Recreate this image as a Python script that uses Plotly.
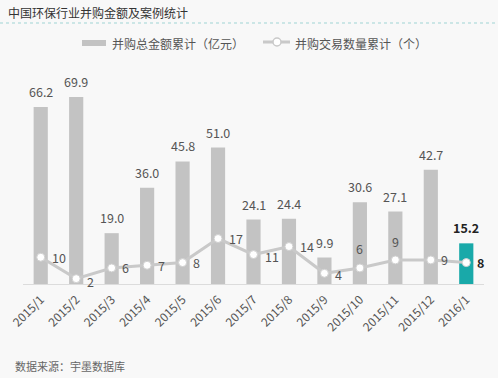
import plotly.graph_objects as go

months = ["2015/1", "2015/2", "2015/3", "2015/4", "2015/5", "2015/6", "2015/7",
          "2015/8", "2015/9", "2015/10", "2015/11", "2015/12", "2016/1"]
amount = [66.2, 69.9, 19.0, 36.0, 45.8, 51.0, 24.1, 24.4, 9.9, 30.6, 27.1, 42.7, 15.2]
deals = [10, 2, 6, 7, 8, 17, 11, 14, 4, 6, 9, 9, 8]

bar_name = "并购总金额累计（亿元）"
line_name = "并购交易数量累计（个）"
title = "中国环保行业并购金额及案例统计"
source = "数据来源：宇墨数据库"

# label offsets (pixels) for the count labels
deal_offsets = [(18, 0), (14, 3), (14, 0), (14, 0), (14, 0), (18, 0), (18, 2),
                (18, 0), (14, 1), (0, -19), (0, -18), (14, 0), (14, 0)]

FONT = "Noto Sans CJK SC, Noto Sans, sans-serif"
W, H = 498, 378
L, R, T, B = 23, 14, 70, 94
pw, ph = W - L - R, H - T - B

gray_bar = "#c3c3c3"
teal = "#19a9a9"
bar_colors = [gray_bar] * (len(months) - 1) + [teal]

fig = go.Figure()
fig.add_trace(go.Bar(x=months, y=amount, name=bar_name, marker_color=bar_colors,
                     marker_line_width=0, width=0.4, showlegend=False))
fig.add_trace(go.Scatter(x=months, y=deals, name=line_name, mode="lines+markers",
                         line=dict(color="#c9c9c9", width=3),
                         marker=dict(size=8, color="white", line=dict(color="#d0d0d0", width=1)),
                         showlegend=False))

last = len(months) - 1
for i, (m, v) in enumerate(zip(months, amount)):
    txt = f"{v:.1f}"
    if i == last:
        txt = f"<b>{txt}</b>"
    fig.add_annotation(x=m, y=v, text=txt, showarrow=False, yanchor="bottom", yshift=4,
                       font=dict(size=12.5, color="#222" if i == last else "#555", family=FONT))

for i, (m, v) in enumerate(zip(months, deals)):
    dx, dy = deal_offsets[i]
    txt = str(v)
    if i == last:
        txt = f"<b>{txt}</b>"
    fig.add_annotation(x=m, y=v, text=txt, showarrow=False, xshift=dx, yshift=-dy,
                       font=dict(size=12.5, color="#222" if i == last else "#555", family=FONT))


def px(x):
    return (x - L) / pw


def py(y):
    return (H - B - y) / ph


# Title and dotted rule
fig.add_annotation(x=px(6), y=py(12), xref="paper", yref="paper", text=title, showarrow=False,
                   xanchor="left", yanchor="middle", font=dict(size=12, color="#333", family=FONT))
fig.add_shape(type="line", xref="paper", yref="paper", x0=px(0), x1=px(498), y0=py(23), y1=py(23),
              line=dict(color="#9fd4d4", width=1, dash="dot"))

# Legend
fig.add_shape(type="rect", xref="paper", yref="paper", x0=px(82), x1=px(106), y0=py(46), y1=py(40),
              fillcolor=gray_bar, line_width=0)
fig.add_annotation(x=px(110), y=py(43), xref="paper", yref="paper", text=bar_name, showarrow=False,
                   xanchor="left", yanchor="middle", font=dict(size=12, color="#555", family=FONT))
fig.add_shape(type="line", xref="paper", yref="paper", x0=px(263), x1=px(290), y0=py(42), y1=py(42),
              line=dict(color="#c9c9c9", width=3))
fig.add_shape(type="circle", xref="paper", yref="paper", x0=px(273), x1=px(281), y0=py(46), y1=py(38),
              fillcolor="white", line=dict(color="#c9c9c9", width=1.5))
fig.add_annotation(x=px(293), y=py(43), xref="paper", yref="paper", text=line_name, showarrow=False,
                   xanchor="left", yanchor="middle", font=dict(size=12, color="#555", family=FONT))

# Source
fig.add_annotation(x=px(13), y=py(366), xref="paper", yref="paper", text=source, showarrow=False,
                   xanchor="left", yanchor="middle", font=dict(size=11, color="#666", family=FONT))

fig.update_layout(
    width=W, height=H, margin=dict(l=L, r=R, t=T, b=B, autoexpand=False),
    paper_bgcolor="#f8f8f8", plot_bgcolor="#f8f8f8",
    font=dict(family=FONT, color="#555"),
    bargap=0.6,
)
fig.update_xaxes(type="category", tickangle=-45, showline=True, linecolor="#dcdcdc", linewidth=1,
                 showgrid=False, ticks="", tickfont=dict(size=12, color="#555", family=FONT),
                 ticklabelstandoff=3,
                 range=[-0.5, len(months) - 0.5], automargin=False)
fig.update_yaxes(range=[0, 80], visible=False, showgrid=False, zeroline=False, automargin=False)

fig.write_html("out.html", config={"displayModeBar": False},
               post_script="document.body.style.margin='0';document.body.style.background='#f8f8f8';")
